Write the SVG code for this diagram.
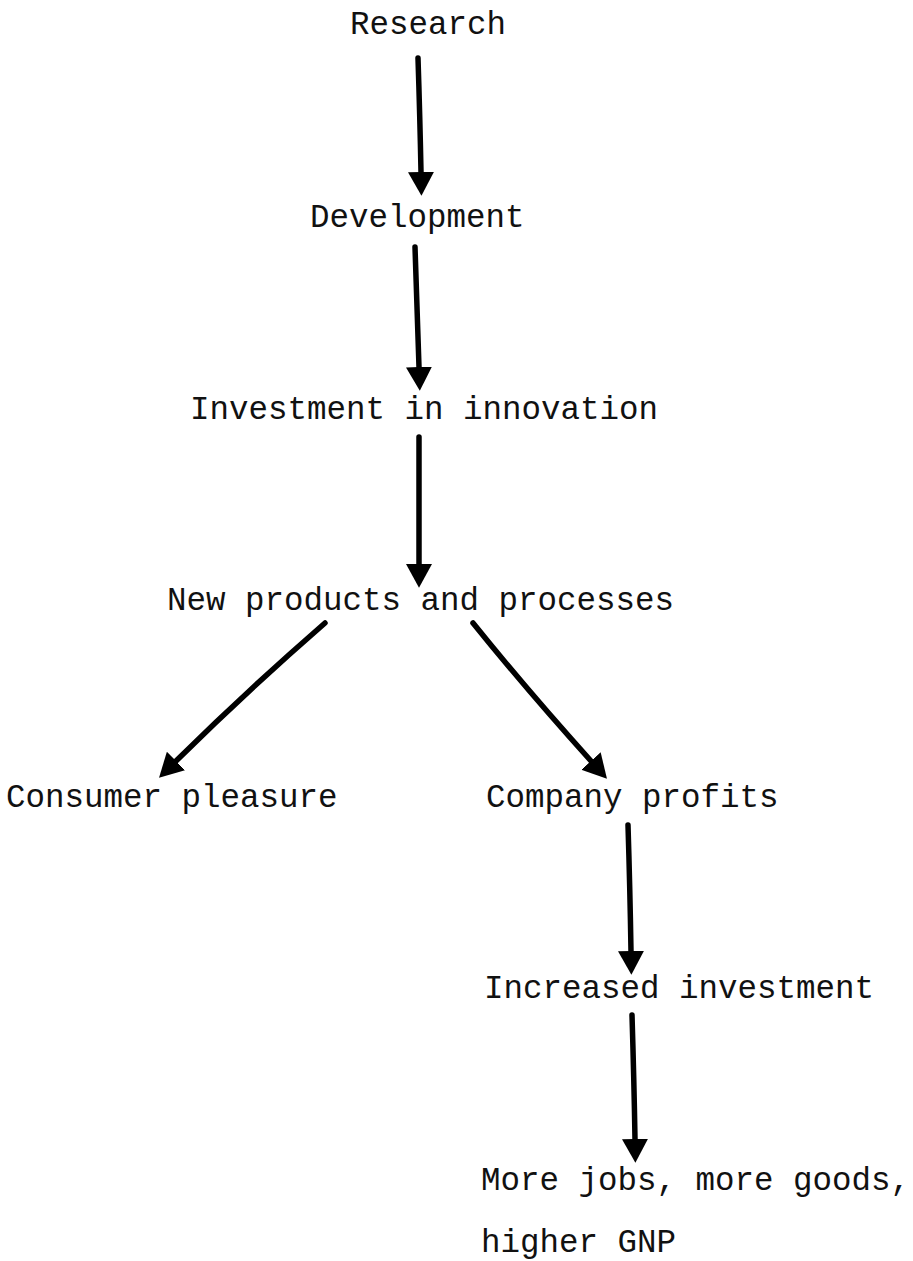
<svg xmlns="http://www.w3.org/2000/svg" width="913" height="1261" viewBox="0 0 913 1261">
  <style>
    .lbl { font-family: "Liberation Mono", "Courier New", monospace; font-size: 32.5px; fill: #111; }
    .edge { fill: none; stroke: #000; stroke-width: 5.5; stroke-linecap: round; }
  </style>
  <defs>
    <marker id="head" markerUnits="userSpaceOnUse" markerWidth="26" markerHeight="26" refX="0" refY="12" orient="auto" viewBox="0 0 24 24">
      <path d="M0,0 L22,12 L0,24 Z" fill="#000"/>
    </marker>
  </defs>
  <rect width="913" height="1261" fill="#fff"/>

  <g id="research"><text class="lbl" x="350" y="34">Research</text></g>
  <g id="development"><text class="lbl" x="310" y="227">Development</text></g>
  <g id="investment-innovation"><text class="lbl" x="190" y="419">Investment in innovation</text></g>
  <g id="new-products"><text class="lbl" x="167" y="610">New products and processes</text></g>
  <g id="consumer-pleasure"><text class="lbl" x="6" y="807">Consumer pleasure</text></g>
  <g id="company-profits"><text class="lbl" x="486" y="807">Company profits</text></g>
  <g id="increased-investment"><text class="lbl" x="484" y="998">Increased investment</text></g>
  <g id="more-jobs">
    <text class="lbl" x="481" y="1190">More jobs, more goods,</text>
    <text class="lbl" x="481" y="1252">higher GNP</text>
  </g>

  <g id="connectors">
    <path class="edge" d="M418,58 Q420,120 421,172" marker-end="url(#head)"/>
    <path class="edge" d="M415,247 Q417,310 419,367" marker-end="url(#head)"/>
    <path class="edge" d="M419,437 L419,564" marker-end="url(#head)"/>
    <path class="edge" d="M325,623 Q248,690 176,761" marker-end="url(#head)"/>
    <path class="edge" d="M473,623 Q527,690 591,761" marker-end="url(#head)"/>
    <path class="edge" d="M628,825 Q630,890 631,951" marker-end="url(#head)"/>
    <path class="edge" d="M632,1015 Q634,1080 635,1139" marker-end="url(#head)"/>
  </g>
</svg>
